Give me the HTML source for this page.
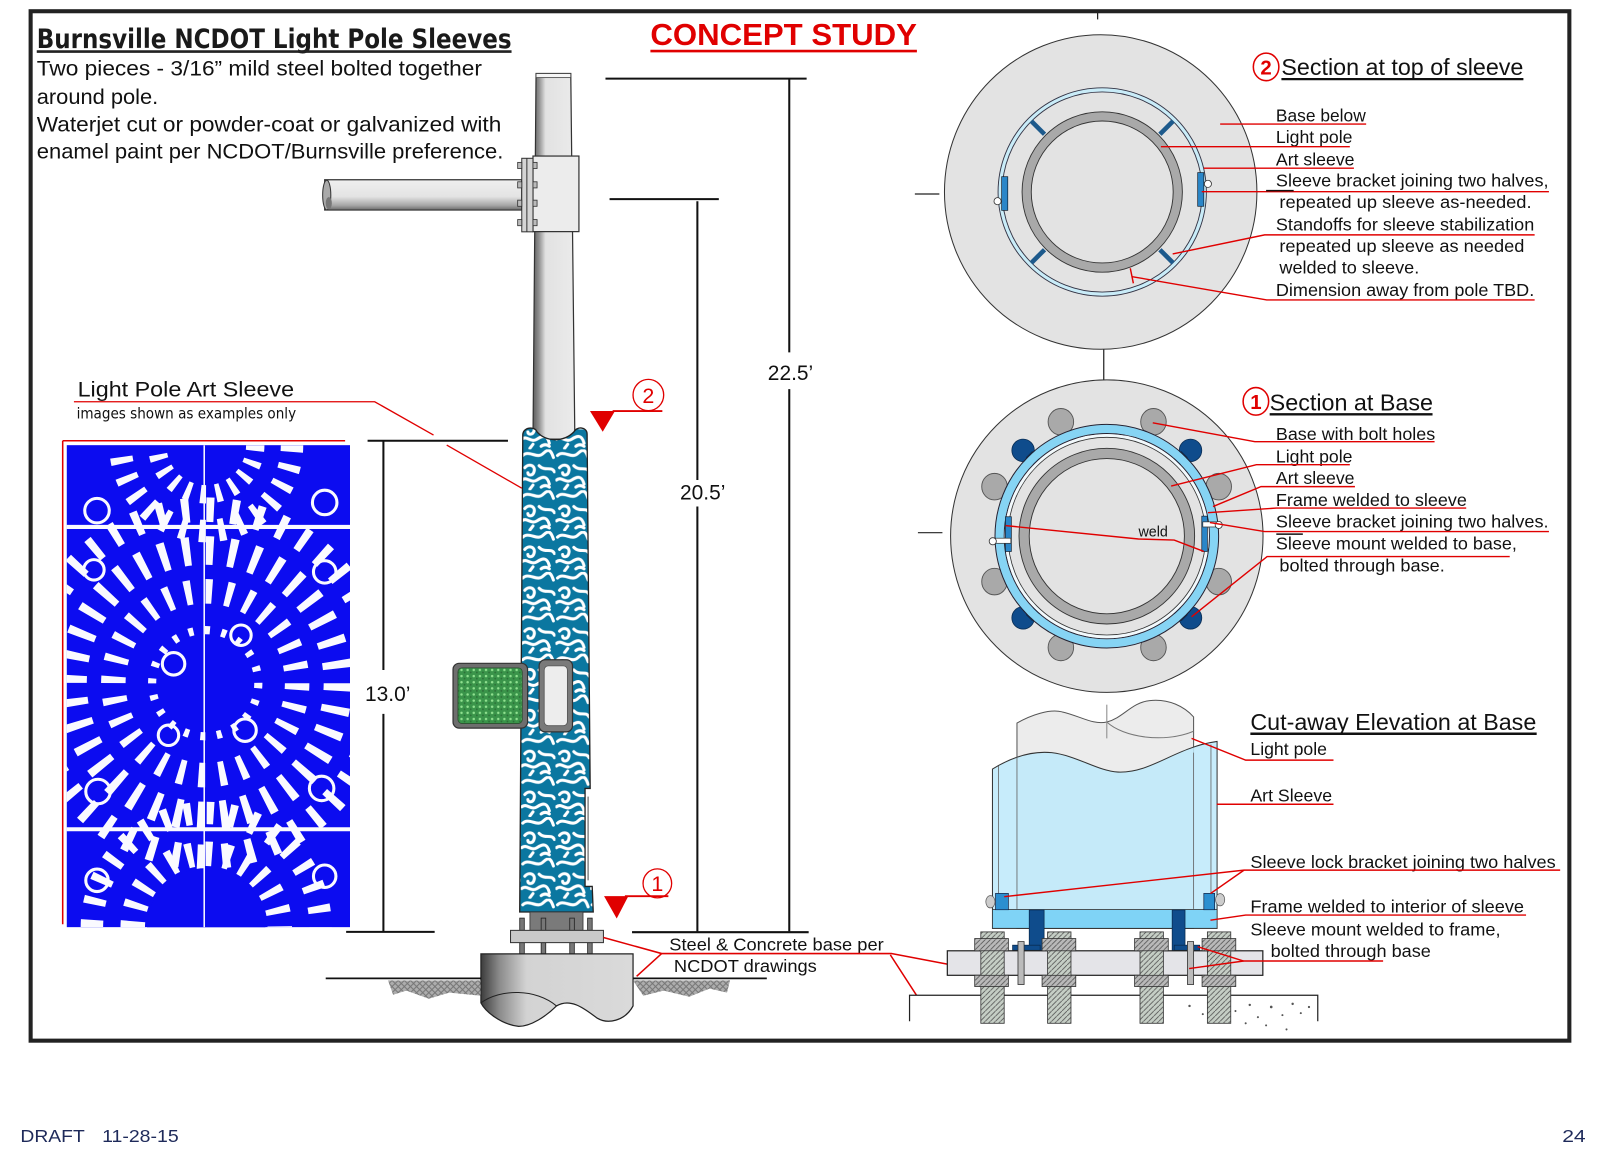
<!DOCTYPE html>
<html><head><meta charset="utf-8"><style>
html,body{margin:0;padding:0;background:#fff;}
svg{display:block;}
text{font-family:"Liberation Sans",Arial,sans-serif;}
</style></head><body>
<svg width="1601" height="1153" viewBox="0 0 1568 1129" preserveAspectRatio="none" xmlns="http://www.w3.org/2000/svg">
<defs>
 <pattern id="swirl" width="34" height="40" patternUnits="userSpaceOnUse">
  <rect width="34" height="40" fill="#0b77a0"/>
  <g fill="none" stroke="#fff" stroke-width="3" stroke-linecap="round">
   <path d="M2,6 C8,0 16,10 22,4 S30,2 32,8"/>
   <path d="M4,18 c4,-5 11,-2 9,4 c-1,4 -6,4 -6,1"/>
   <path d="M18,16 C24,22 30,16 33,22"/>
   <path d="M1,30 C6,26 10,34 16,30 S26,26 28,34"/>
   <path d="M20,37 q4,-3 8,0"/>
   <path d="M9,39 l3,-4"/>
  </g>
 </pattern>
 <pattern id="dots" width="6" height="6" patternUnits="userSpaceOnUse">
  <rect width="6" height="6" fill="#3a944a"/>
  <circle cx="2" cy="2" r="1.2" fill="#8fe08f"/>
  <circle cx="5" cy="4.5" r="0.9" fill="#2c6f38"/>
 </pattern>
 <pattern id="hatch" width="6" height="6" patternUnits="userSpaceOnUse">
  <rect width="6" height="6" fill="#8a8a8a"/>
  <path d="M0,6 L6,0 M0,0 L6,6" stroke="#3a3a3a" stroke-width="1"/>
 </pattern>
 <pattern id="bhatch" width="5" height="5" patternUnits="userSpaceOnUse">
  <rect width="5" height="5" fill="#c5cec5"/>
  <path d="M0,5 L5,0" stroke="#555" stroke-width="0.8"/>
 </pattern>
 <pattern id="nhatch" width="5" height="5" patternUnits="userSpaceOnUse">
  <rect width="5" height="5" fill="#b9b9b9"/>
  <path d="M0,5 L5,0" stroke="#555" stroke-width="0.8"/>
 </pattern>
 <linearGradient id="poleG" x1="0" x2="1" y1="0" y2="0">
  <stop offset="0" stop-color="#5e5e5e"/><stop offset="0.14" stop-color="#8f8f8f"/>
  <stop offset="0.3" stop-color="#e2e2e2"/><stop offset="1" stop-color="#ebebeb"/>
 </linearGradient>
 <linearGradient id="armG" x1="0" x2="0" y1="0" y2="1">
  <stop offset="0" stop-color="#efefef"/><stop offset="0.55" stop-color="#e4e4e4"/>
  <stop offset="0.85" stop-color="#a5a5a5"/><stop offset="1" stop-color="#6a6a6a"/>
 </linearGradient>
 <linearGradient id="concG" x1="0" x2="1" y1="0" y2="0">
  <stop offset="0" stop-color="#3c3c3c"/><stop offset="0.12" stop-color="#8a8a8a"/>
  <stop offset="0.3" stop-color="#d3d3d3"/><stop offset="1" stop-color="#dadada"/>
 </linearGradient>
 <clipPath id="panelClip"><rect x="65.3" y="435.8" width="277.5" height="472.2"/></clipPath>
</defs>

<rect width="1568" height="1129" fill="#fff"/>

<!-- frame -->
<rect x="30" y="11" width="1507" height="1008" fill="none" stroke="#222" stroke-width="4"/>

<!-- title & notes -->
<text x="36" y="47" font-size="26" font-weight="bold" fill="#1a1a1a" textLength="465" lengthAdjust="spacingAndGlyphs" style="font-family:'DejaVu Sans Condensed','DejaVu Sans','Liberation Sans',sans-serif">Burnsville NCDOT Light Pole Sleeves</text>
<line x1="36" y1="50.5" x2="501" y2="50.5" stroke="#222" stroke-width="2.5"/>
<g font-size="21" fill="#111" style="font-family:'DejaVu Sans Condensed','DejaVu Sans','Liberation Sans',sans-serif">
 <text x="36" y="74" textLength="436" lengthAdjust="spacingAndGlyphs">Two pieces - 3/16” mild steel bolted together</text>
 <text x="36" y="102" textLength="119" lengthAdjust="spacingAndGlyphs">around pole.</text>
 <text x="36" y="129" textLength="455" lengthAdjust="spacingAndGlyphs">Waterjet cut or powder-coat or galvanized with</text>
 <text x="36" y="155" textLength="457" lengthAdjust="spacingAndGlyphs">enamel paint per NCDOT/Burnsville preference.</text>
</g>

<text x="637" y="44" font-size="30" font-weight="bold" fill="#e00000" textLength="261" lengthAdjust="spacingAndGlyphs">CONCEPT STUDY</text>
<line x1="637" y1="50" x2="898" y2="50" stroke="#e00000" stroke-width="2.5"/>

<!-- dimension lines -->
<g stroke="#111" stroke-width="2" fill="none">
 <line x1="593" y1="77" x2="790" y2="77"/>
 <line x1="773" y1="77" x2="773" y2="345"/>
 <line x1="773" y1="381" x2="773" y2="912"/>
 <line x1="597" y1="195" x2="704" y2="195"/>
 <line x1="683" y1="197" x2="683" y2="470"/>
 <line x1="683" y1="496" x2="683" y2="912"/>
 <line x1="619" y1="912.8" x2="792" y2="912.8"/>
 <line x1="360" y1="431.6" x2="497.5" y2="431.6"/>
 <line x1="375.5" y1="431.6" x2="375.5" y2="656"/>
 <line x1="375.5" y1="699" x2="375.5" y2="912.5"/>
 <line x1="339" y1="912.5" x2="425.7" y2="912.5"/>
</g>
<g font-size="20.5" fill="#111">
 <text x="752" y="372">22.5’</text>
 <text x="666" y="489">20.5’</text>
 <text x="357.5" y="686.5">13.0’</text>
</g>

<!-- Light pole art sleeve label -->
<text x="76" y="388.5" font-size="20.5" fill="#111" textLength="212" lengthAdjust="spacingAndGlyphs">Light Pole Art Sleeve</text>
<text x="75" y="409.8" font-size="14.5" fill="#111" textLength="215" lengthAdjust="spacingAndGlyphs" style="font-family:'DejaVu Sans Condensed','DejaVu Sans','Liberation Sans',sans-serif">images shown as examples only</text>
<g stroke="#e00000" stroke-width="1.3" fill="none">
 <polyline points="72.4,393.4 367,393.4 424.6,426"/>
 <line x1="437.5" y1="435.8" x2="511" y2="478"/>
</g>

<!-- blue panel -->
<line x1="61.4" y1="431.6" x2="338" y2="431.6" stroke="#e00000" stroke-width="1.5"/>
<line x1="61.4" y1="431.6" x2="61.4" y2="905" stroke="#e00000" stroke-width="1.5"/>
<g clip-path="url(#panelClip)">
 <rect x="65.3" y="435.8" width="277.5" height="472.2" fill="#0c0cf0"/>
 <g fill="none" stroke="#fafaff">
  <circle cx="201" cy="669" r="52" stroke-width="8" stroke-dasharray="5 11.3"/>
  <circle cx="201" cy="669" r="90" stroke-width="24" stroke-dasharray="6.5 13.7"/>
  <circle cx="201" cy="669" r="130" stroke-width="28" stroke-dasharray="7.5 15.2"/>
  <circle cx="201" cy="669" r="170" stroke-width="24" stroke-dasharray="7.5 16.8"/>
  <circle cx="202" cy="436" r="48" stroke-width="18" stroke-dasharray="5.5 9.6"/>
  <circle cx="202" cy="436" r="84" stroke-width="22" stroke-dasharray="6.5 12.4"/>
  <circle cx="202" cy="908" r="72" stroke-width="24" stroke-dasharray="6.5 12.3"/>
  <circle cx="202" cy="908" r="112" stroke-width="22" stroke-dasharray="7 15"/>
 </g>
 <circle cx="202" cy="908" r="58" fill="#0c0cf0"/>
 <g stroke="#fafaff" fill="none">
  <line x1="65" y1="516" x2="343" y2="516" stroke-width="4"/>
  <line x1="65" y1="812" x2="343" y2="812" stroke-width="4"/>
  <line x1="200" y1="436" x2="200" y2="908" stroke-width="1.5"/>
  <circle cx="95" cy="500" r="12" stroke-width="3"/>
  <circle cx="318" cy="492" r="12" stroke-width="3"/>
  <circle cx="92" cy="558" r="10" stroke-width="3"/>
  <circle cx="318" cy="560" r="11" stroke-width="3"/>
  <circle cx="96" cy="775" r="12" stroke-width="3"/>
  <circle cx="315" cy="772" r="12" stroke-width="3"/>
  <circle cx="95" cy="862" r="11" stroke-width="3"/>
  <circle cx="318" cy="858" r="11" stroke-width="3"/>
  <circle cx="170" cy="650" r="11" stroke-width="3"/>
  <circle cx="236" cy="622" r="10" stroke-width="3"/>
  <circle cx="165" cy="720" r="10" stroke-width="3"/>
  <circle cx="240" cy="715" r="11" stroke-width="3"/>
 </g>
</g>

<!-- pole -->
<path d="M525,72 L559,72 L563,430 L522,430 Z" fill="url(#poleG)" stroke="#333" stroke-width="1.2"/>
<rect x="525" y="72" width="34" height="4" fill="#f6f6f6" stroke="#444" stroke-width="0.8"/>
<path d="M318,176 L511,176 L511,205.7 L318,205.7 Z" fill="url(#armG)" stroke="#333" stroke-width="1.2"/>
<ellipse cx="320" cy="191" rx="4" ry="14.5" fill="#aaa" stroke="#333" stroke-width="1"/>
<ellipse cx="322" cy="199" rx="3" ry="6" fill="#777"/>
<rect x="522" y="152.8" width="45" height="74" fill="#ececec" stroke="#333" stroke-width="1.2"/>
<rect x="511" y="155" width="11" height="72" fill="#d4d4d4" stroke="#333" stroke-width="1"/>
<line x1="516" y1="155" x2="516" y2="227" stroke="#333" stroke-width="1"/>
<g fill="#bbb" stroke="#333" stroke-width="0.8">
 <rect x="507" y="159" width="4" height="6"/><rect x="522" y="159" width="4" height="6"/>
 <rect x="507" y="178" width="4" height="6"/><rect x="522" y="178" width="4" height="6"/>
 <rect x="507" y="196" width="4" height="6"/><rect x="522" y="196" width="4" height="6"/>
 <rect x="507" y="215" width="4" height="6"/><rect x="522" y="215" width="4" height="6"/>
</g>

<!-- sleeve -->
<path d="M512,426 C512,418 524,417 526,423 C535,433 552,433 562,423 C565,417 575,418 575,425 L578,772 L573,772 L573,868 L580,868 L581,893 L509,893 Z" fill="url(#swirl)" stroke="#222" stroke-width="1.3"/>
<line x1="576" y1="780" x2="576" y2="862" stroke="#888" stroke-width="1.5"/>

<!-- signal heads -->
<rect x="443.7" y="649.5" width="73" height="63.5" rx="6" fill="#6e6e6e" stroke="#333" stroke-width="1.2"/>
<rect x="448.5" y="654" width="63" height="54.5" rx="4" fill="url(#dots)" stroke="#2d4d30" stroke-width="0.8"/>
<rect x="528" y="646" width="32.7" height="70.6" rx="6" fill="#7a7a7a" stroke="#333" stroke-width="1.2"/>
<rect x="533" y="652" width="22.7" height="58.6" rx="4" fill="#ededed" stroke="#555" stroke-width="0.8"/>

<!-- base -->
<rect x="519" y="893" width="52" height="18" fill="#7a7a7a" stroke="#333" stroke-width="0.8"/>
<g fill="#777" stroke="#222" stroke-width="0.8">
 <rect x="509" y="899" width="4.5" height="12"/><rect x="530" y="899" width="4.5" height="12"/>
 <rect x="558" y="899" width="4.5" height="12"/><rect x="575.5" y="899" width="4.5" height="12"/>
 <rect x="509" y="923" width="4.5" height="11"/><rect x="530" y="923" width="4.5" height="11"/>
 <rect x="558" y="923" width="4.5" height="11"/><rect x="575.5" y="923" width="4.5" height="11"/>
</g>
<rect x="500" y="911" width="91" height="12" fill="#c9c9c9" stroke="#333" stroke-width="1"/>
<path d="M471,934 H620 V985 C612,1000 595,1003 585,997 C575,990 560,976 545,985 C535,995 520,1005 508,1005 C490,1003 475,990 471,982 Z" fill="url(#concG)" stroke="#222" stroke-width="1.2"/>
<path d="M471,982 C490,968 525,968 545,985" fill="none" stroke="#222" stroke-width="1"/>
<line x1="319" y1="958" x2="471" y2="958" stroke="#111" stroke-width="1.8"/>
<line x1="620" y1="958" x2="751" y2="958" stroke="#111" stroke-width="1.8"/>
<path d="M380,960 L471,960 L471,975 L440,972 L420,978 L398,970 L385,974 Z" fill="url(#hatch)" opacity="0.7"/>
<path d="M620,960 L715,960 L712,972 L695,968 L675,976 L650,970 L630,975 Z" fill="url(#hatch)" opacity="0.7"/>

<!-- section markers -->
<g fill="#e00000"><path d="M577.8,402.5 L602.3,402.5 L590.3,422.8 Z"/><path d="M591.6,877.5 L615.4,877.5 L604,899.4 Z"/></g>
<g stroke="#e00000" fill="none" stroke-width="1.8">
 <line x1="600" y1="402.5" x2="648.7" y2="402.5"/>
 <line x1="612" y1="877.5" x2="654.6" y2="877.5"/>
</g>
<g stroke="#e00000" fill="none" stroke-width="1.3">
 <ellipse cx="635" cy="386.8" rx="15" ry="15.3"/>
 <ellipse cx="643.8" cy="865" rx="14" ry="14.2"/>
</g>
<g fill="#e00000" font-size="21" text-anchor="middle">
 <text x="635" y="394.5">2</text>
 <text x="643.8" y="872.5">1</text>
</g>

<!-- steel & concrete label -->
<text x="655.5" y="930.5" font-size="17" fill="#111" textLength="210" lengthAdjust="spacingAndGlyphs">Steel &amp; Concrete base per</text>
<text x="660" y="951.6" font-size="17" fill="#111" textLength="140" lengthAdjust="spacingAndGlyphs">NCDOT drawings</text>
<g stroke="#e00000" stroke-width="1.5" fill="none">
 <polyline points="591,918 648,933.7 873,933.7 938,946"/>
 <line x1="648" y1="933.7" x2="623.5" y2="956"/>
 <line x1="872" y1="935" x2="907" y2="989"/>
</g>

<!-- top ticks -->
<g stroke="#222" stroke-width="1.2">
 <line x1="1075" y1="11" x2="1075" y2="19"/>
 <line x1="896" y1="190" x2="920" y2="190"/>
 <line x1="1081" y1="341" x2="1081" y2="379"/>
 <line x1="899" y1="521.6" x2="923" y2="521.6"/>
</g>

<!-- SECTION 2 -->
<ellipse cx="1078" cy="188" rx="153" ry="154" fill="#e3e3e3" stroke="#333" stroke-width="1"/>
<circle cx="1079.5" cy="188" r="100" fill="none" stroke="#c9ecf8" stroke-width="4"/>
<circle cx="1079.5" cy="188" r="102" fill="none" stroke="#334" stroke-width="0.9"/>
<circle cx="1079.5" cy="188" r="98" fill="none" stroke="#334" stroke-width="0.9"/>
<g stroke="#1d5a8c" stroke-width="4.5">
 <line x1="1023" y1="131.5" x2="1010" y2="118.5"/>
 <line x1="1136" y1="131.5" x2="1149" y2="118.5"/>
 <line x1="1023" y1="244.5" x2="1010" y2="257.5"/>
 <line x1="1136" y1="244.5" x2="1149" y2="257.5"/>
</g>
<circle cx="1079.5" cy="188" r="74" fill="none" stroke="#a9a9a9" stroke-width="9"/>
<circle cx="1079.5" cy="188" r="78.5" fill="none" stroke="#333" stroke-width="0.9"/>
<circle cx="1079.5" cy="188" r="69.5" fill="none" stroke="#333" stroke-width="0.9"/>
<rect x="1173" y="169" width="6" height="33" fill="#2a86c8" stroke="#123" stroke-width="0.7"/>
<rect x="981" y="173" width="6" height="33" fill="#2a86c8" stroke="#123" stroke-width="0.7"/>
<circle cx="1183" cy="180" r="3.5" fill="#fff" stroke="#333" stroke-width="0.8"/>
<circle cx="977" cy="197" r="3.5" fill="#fff" stroke="#333" stroke-width="0.8"/>

<ellipse cx="1240" cy="65.5" rx="12.5" ry="13.5" fill="none" stroke="#e00000" stroke-width="1.5"/>
<text x="1240" y="73" font-size="20" font-weight="bold" fill="#e00000" text-anchor="middle">2</text>
<text x="1255" y="73.5" font-size="23" fill="#111" textLength="237" lengthAdjust="spacingAndGlyphs">Section at top of sleeve</text>
<line x1="1255" y1="77.5" x2="1492" y2="77.5" stroke="#111" stroke-width="2.2"/>

<g font-size="17" fill="#111">
 <text x="1249.6" y="119" textLength="88" lengthAdjust="spacingAndGlyphs">Base below</text>
 <text x="1249.6" y="140" textLength="75" lengthAdjust="spacingAndGlyphs">Light pole</text>
 <text x="1249.6" y="162" textLength="77" lengthAdjust="spacingAndGlyphs">Art sleeve</text>
 <text x="1249.6" y="182.7" textLength="267" lengthAdjust="spacingAndGlyphs">Sleeve bracket joining two halves,</text>
 <text x="1253" y="203.7" textLength="247" lengthAdjust="spacingAndGlyphs">repeated up sleeve as-needed.</text>
 <text x="1249.6" y="225.8" textLength="253" lengthAdjust="spacingAndGlyphs">Standoffs for sleeve stabilization</text>
 <text x="1253" y="246.7" textLength="240" lengthAdjust="spacingAndGlyphs">repeated up sleeve as needed</text>
 <text x="1253" y="268" textLength="137" lengthAdjust="spacingAndGlyphs">welded to sleeve.</text>
 <text x="1249.6" y="289.8" textLength="253" lengthAdjust="spacingAndGlyphs">Dimension away from pole TBD.</text>
</g>
<g stroke="#e00000" stroke-width="1.4" fill="none">
 <line x1="1195" y1="121.5" x2="1338" y2="121.5"/>
 <line x1="1137" y1="143.6" x2="1322" y2="143.6"/>
 <line x1="1179" y1="164.7" x2="1326" y2="164.7"/>
 <line x1="1177" y1="187.7" x2="1517" y2="187.7"/>
 <polyline points="1148.5,248.7 1238.6,230 1503,230"/>
 <polyline points="1108.8,270.9 1240.6,293.7 1503,293.7"/>
 <line x1="1107" y1="262.7" x2="1110" y2="277.4"/>
</g>
<line x1="1240" y1="186.7" x2="1267" y2="186.7" stroke="#111" stroke-width="1.5"/>

<!-- SECTION 1 -->
<ellipse cx="1084" cy="525" rx="153" ry="153" fill="#e3e3e3" stroke="#333" stroke-width="1"/>
<g fill="#a9a9a9" stroke="#555" stroke-width="0.9">
 <ellipse cx="1039" cy="413" rx="12.5" ry="13"/>
 <ellipse cx="1129.7" cy="413" rx="12.5" ry="13"/>
 <ellipse cx="974" cy="476.5" rx="12.5" ry="13"/>
 <ellipse cx="1193.6" cy="476.5" rx="12.5" ry="13"/>
 <ellipse cx="974" cy="569.5" rx="12.5" ry="13"/>
 <ellipse cx="1193.6" cy="569.5" rx="12.5" ry="13"/>
 <ellipse cx="1039" cy="634" rx="12.5" ry="13"/>
 <ellipse cx="1129.7" cy="634" rx="12.5" ry="13"/>
</g>
<g fill="#0f4c8c" stroke="#0a2e55" stroke-width="0.8">
 <circle cx="1002" cy="441" r="11"/><rect x="1006" y="446" width="14" height="8" transform="rotate(45 1013 450)"/>
 <circle cx="1166" cy="441" r="11"/><rect x="1148" y="446" width="14" height="8" transform="rotate(-45 1155 450)"/>
 <circle cx="1002" cy="605" r="11"/><rect x="1006" y="596" width="14" height="8" transform="rotate(-45 1013 600)"/>
 <circle cx="1166" cy="605" r="11"/><rect x="1148" y="596" width="14" height="8" transform="rotate(45 1155 600)"/>
</g>
<circle cx="1084" cy="525" r="105" fill="none" stroke="#86d4f4" stroke-width="8"/>
<circle cx="1084" cy="525" r="109.5" fill="none" stroke="#223" stroke-width="1"/>
<circle cx="1084" cy="525" r="100.5" fill="none" stroke="#223" stroke-width="1"/>
<circle cx="1084" cy="525" r="98.5" fill="none" stroke="#f2f9fc" stroke-width="3"/>
<circle cx="1084" cy="525" r="96.8" fill="#e3e3e3" stroke="#333" stroke-width="0.8"/>
<circle cx="1084" cy="525" r="81" fill="none" stroke="#a9a9a9" stroke-width="10"/>
<circle cx="1084" cy="525" r="86" fill="none" stroke="#333" stroke-width="0.9"/>
<circle cx="1084" cy="525" r="76" fill="none" stroke="#333" stroke-width="0.9"/>
<rect x="1177" y="505.4" width="5.5" height="34.6" fill="#2a86c8" stroke="#123" stroke-width="0.7"/>
<rect x="1178" y="511" width="15" height="5" fill="#fff" stroke="#333" stroke-width="0.7"/>
<rect x="984.7" y="506" width="5.8" height="34" fill="#2a86c8" stroke="#123" stroke-width="0.7"/>
<rect x="975" y="527" width="15" height="5" fill="#fff" stroke="#333" stroke-width="0.7"/>
<circle cx="1193.6" cy="514" r="3.5" fill="#fff" stroke="#333" stroke-width="0.8"/>
<circle cx="972.3" cy="530" r="3.5" fill="#fff" stroke="#333" stroke-width="0.8"/>
<text x="1115" y="525.5" font-size="14" fill="#111">weld</text>

<ellipse cx="1230" cy="393" rx="12.5" ry="13.5" fill="none" stroke="#e00000" stroke-width="1.5"/>
<text x="1230" y="400.5" font-size="20" font-weight="bold" fill="#e00000" text-anchor="middle">1</text>
<text x="1243.5" y="402" font-size="23" fill="#111" textLength="160" lengthAdjust="spacingAndGlyphs">Section at Base</text>
<line x1="1243.5" y1="405.7" x2="1403" y2="405.7" stroke="#111" stroke-width="2.4"/>

<g font-size="17" fill="#111">
 <text x="1249.6" y="430.8" textLength="156" lengthAdjust="spacingAndGlyphs">Base with bolt holes</text>
 <text x="1249.6" y="453" textLength="75" lengthAdjust="spacingAndGlyphs">Light pole</text>
 <text x="1249.6" y="474" textLength="77" lengthAdjust="spacingAndGlyphs">Art sleeve</text>
 <text x="1249.6" y="495.5" textLength="187" lengthAdjust="spacingAndGlyphs">Frame welded to sleeve</text>
 <text x="1249.6" y="516.6" textLength="267" lengthAdjust="spacingAndGlyphs">Sleeve bracket joining two halves.</text>
 <text x="1249.6" y="538" textLength="236" lengthAdjust="spacingAndGlyphs">Sleeve mount welded to base,</text>
 <text x="1253" y="559.7" textLength="162" lengthAdjust="spacingAndGlyphs">bolted through base.</text>
</g>
<g stroke="#e00000" stroke-width="1.4" fill="none">
 <polyline points="1129,414 1229,432.5 1405,432.5"/>
 <polyline points="1147,476 1230.5,455 1322,455"/>
 <polyline points="1188,496 1235,476.5 1327,476.5"/>
 <polyline points="1183,502 1250,497.5 1436,497.5"/>
 <polyline points="1185,511.7 1238.6,520.5 1517,520.5"/>
 <polyline points="1167,604 1241,545 1478.6,545"/>
 <polyline points="985,514.7 1115,527.8 1150,528.8 1179,540"/>
</g>
<line x1="1250" y1="523" x2="1276" y2="523" stroke="#111" stroke-width="1.5"/>

<!-- CUTAWAY -->
<path d="M996,708 C1010,700 1028,694 1040,697 C1058,701 1070,710 1084,707 C1100,703 1108,688 1126,686 C1145,684 1160,692 1169,702 L1169,909 L996,909 Z" fill="#ececec" stroke="#555" stroke-width="1"/>
<path d="M1084,707 C1100,722 1140,728 1169,716" fill="none" stroke="#777" stroke-width="1"/>
<line x1="1084" y1="690" x2="1084" y2="723" stroke="#888" stroke-width="1"/>
<path d="M972,753 C990,742 1010,735 1030,737 C1055,740 1075,755 1095,756 C1120,757 1140,742 1165,733 C1175,729 1185,727 1192,726 L1192,909 L972,909 Z" fill="#bfe9fa" fill-opacity="0.88" stroke="#333" stroke-width="1"/>
<g stroke="#666" stroke-width="0.8">
 <line x1="978" y1="750" x2="978" y2="909"/>
 <line x1="1186" y1="729" x2="1186" y2="909"/>
 <line x1="996" y1="741" x2="996" y2="890"/>
 <line x1="1169" y1="737" x2="1169" y2="890"/>
</g>
<rect x="972" y="890.6" width="220" height="18.4" fill="#7fd3f6" stroke="#333" stroke-width="0.8"/>
<g fill="#0f4c8c" stroke="#08284a" stroke-width="0.7">
 <rect x="1008" y="891" width="14.6" height="40"/>
 <rect x="1148" y="891" width="12.6" height="40"/>
 <rect x="991.7" y="925.5" width="27" height="5"/>
 <rect x="1150" y="925.5" width="25" height="5"/>
</g>
<g fill="#2b8fd0" stroke="#124" stroke-width="0.7">
 <rect x="975" y="874.8" width="12.6" height="16"/>
 <rect x="1179" y="874.8" width="10.6" height="16"/>
</g>
<ellipse cx="970" cy="883" rx="4.5" ry="6" fill="#ccc" stroke="#555" stroke-width="0.7"/>
<ellipse cx="1195" cy="881" rx="4.5" ry="6" fill="#ccc" stroke="#555" stroke-width="0.7"/>

<!-- concrete under cutaway -->
<path d="M890.8,1000 L890.8,974.5 L1290.6,974.5 L1290.6,1000" fill="#fff" stroke="#222" stroke-width="1.2"/>
<g fill="#555">
 <circle cx="1165" cy="985" r="1.2"/><circle cx="1178" cy="993" r="1"/><circle cx="1196" cy="982" r="1.3"/>
 <circle cx="1210" cy="990" r="1"/><circle cx="1224" cy="984" r="1.2"/><circle cx="1232" cy="996" r="1"/>
 <circle cx="1245" cy="986" r="1.3"/><circle cx="1256" cy="994" r="1"/><circle cx="1266" cy="983" r="1.2"/>
 <circle cx="1274" cy="992" r="1"/><circle cx="1282" cy="986" r="1.1"/><circle cx="1240" cy="1004" r="1"/>
 <circle cx="1260" cy="1008" r="1"/><circle cx="1220" cy="1002" r="1"/>
</g>
<rect x="927.8" y="931" width="309" height="24" fill="#e4e4e8" stroke="#222" stroke-width="1.2"/>
<g stroke="#333" stroke-width="0.8">
 <rect x="960.6" y="912.5" width="22.9" height="89.5" fill="url(#bhatch)"/>
 <rect x="1026" y="912.5" width="22.9" height="89.5" fill="url(#bhatch)"/>
 <rect x="1116.5" y="912.5" width="22.9" height="89.5" fill="url(#bhatch)"/>
 <rect x="1182.5" y="912.5" width="22.9" height="89.5" fill="url(#bhatch)"/>
 <rect x="954.6" y="919" width="33" height="12" fill="url(#nhatch)"/>
 <rect x="1020.6" y="919" width="33" height="12" fill="url(#nhatch)"/>
 <rect x="1111.2" y="919" width="33" height="12" fill="url(#nhatch)"/>
 <rect x="1177.3" y="919" width="33" height="12" fill="url(#nhatch)"/>
 <rect x="954.6" y="955" width="33" height="11" fill="url(#nhatch)"/>
 <rect x="1020.6" y="955" width="33" height="11" fill="url(#nhatch)"/>
 <rect x="1111.2" y="955" width="33" height="11" fill="url(#nhatch)"/>
 <rect x="1177.3" y="955" width="33" height="11" fill="url(#nhatch)"/>
 <rect x="997" y="922" width="6" height="42" fill="#bbb"/>
 <rect x="1163" y="922" width="6" height="42" fill="#bbb"/>
</g>

<text x="1224.6" y="715" font-size="23" fill="#111" textLength="280" lengthAdjust="spacingAndGlyphs">Cut-away Elevation at Base</text>
<line x1="1224.6" y1="718.5" x2="1505" y2="718.5" stroke="#111" stroke-width="2.4"/>
<g font-size="17" fill="#111">
 <text x="1224.6" y="739.5" textLength="75" lengthAdjust="spacingAndGlyphs">Light pole</text>
 <text x="1224.6" y="785" textLength="80" lengthAdjust="spacingAndGlyphs">Art Sleeve</text>
 <text x="1224.6" y="849.8" textLength="299" lengthAdjust="spacingAndGlyphs">Sleeve lock bracket joining two halves</text>
 <text x="1224.6" y="893.5" textLength="268" lengthAdjust="spacingAndGlyphs">Frame welded to interior of sleeve</text>
 <text x="1224.6" y="915.8" textLength="245" lengthAdjust="spacingAndGlyphs">Sleeve mount welded to frame,</text>
 <text x="1244.4" y="937" textLength="157" lengthAdjust="spacingAndGlyphs">bolted through base</text>
</g>
<g stroke="#e00000" stroke-width="1.4" fill="none">
 <polyline points="1167,723 1220,744.3 1306,744.3"/>
 <line x1="1191.6" y1="787.5" x2="1306" y2="787.5"/>
 <polyline points="983.5,878 1218.4,852 1528,852"/>
 <line x1="1185.5" y1="875" x2="1218.4" y2="852"/>
 <polyline points="1185.5,901 1220,896 1494.6,896"/>
 <polyline points="1173,927 1218,941 1354.6,941"/>
 <line x1="1164.6" y1="948.4" x2="1218" y2="941"/>
</g>

<!-- footer -->
<g fill="#1e2a5a" font-size="17">
 <text x="20" y="1118" textLength="63" lengthAdjust="spacingAndGlyphs">DRAFT</text>
 <text x="100" y="1118" textLength="75" lengthAdjust="spacingAndGlyphs">11-28-15</text>
 <text x="1530" y="1118" textLength="23" lengthAdjust="spacingAndGlyphs">24</text>
</g>
</svg>
</body></html>
